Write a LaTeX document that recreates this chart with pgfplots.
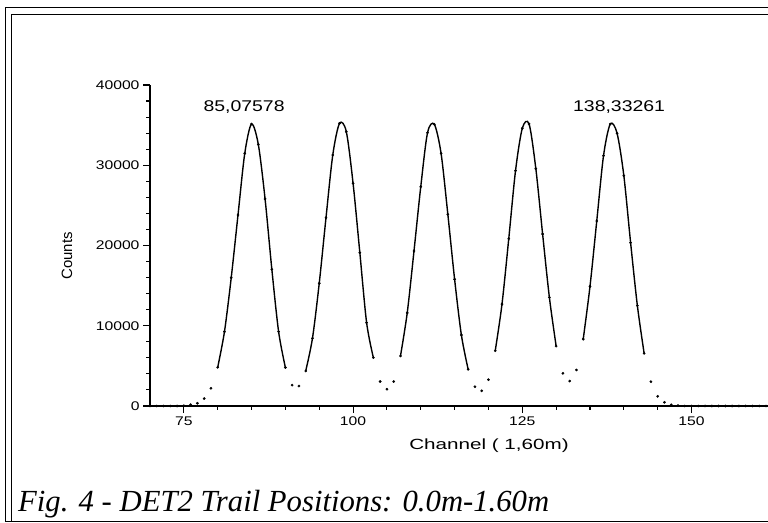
\documentclass[border=0pt]{standalone}
\usepackage{fontspec}
\setmainfont{Liberation Serif}
\newfontfamily\chartfont[FakeStretch=1.25]{Liberation Sans}
\newfontfamily\widefont[FakeStretch=1.4]{Liberation Sans}
\newfontfamily\plainsans{Liberation Sans}
\usepackage{pgfplots}
\usepackage{pgfplotstable}
\pgfplotsset{compat=1.18}

% counts per channel
\pgfplotstableread{
ch  counts
70  0
71  0
72  0
73  0
74  0
75  30
76  170
77  340
78  930
79  2210
80  4820
81  9260
82  15990
83  23800
84  31480
85  35140
86  32600
87  25800
88  17030
89  9260
90  4800
91  2600
92  2490
93  4360
94  8430
95  15280
96  23460
97  31270
98  35220
99  34180
100 27750
101 19100
102 10380
103 6020
104 3050
105 2090
106 3050
107 6230
108 11600
109 19310
110 27330
111 34050
112 35100
113 31480
114 23890
115 15790
116 8850
117 4570
118 2400
119 1890
120 3280
121 6880
122 12690
123 20850
124 29320
125 34600
126 35140
127 29570
128 21430
129 13540
130 7460
131 4070
132 3110
133 4490
134 8330
135 14900
136 23050
137 31190
138 35140
139 33980
140 28700
141 20350
142 12500
143 6560
144 3030
145 1200
146 460
147 150
148 50
149 0
150 0
151 0
152 0
153 0
154 0
155 0
156 0
157 0
158 0
159 0
160 0
161 0
}\spectrum

\begin{document}
\begin{tikzpicture}[x=1bp,y=1bp]
\path[use as bounding box] (0,0) rectangle (768,523);

% page frame
\draw[line width=0.9bp] (768,515.7) -- (5.7,515.7) -- (5.7,2) -- (768,2);
\draw[line width=0.9bp] (768,508.7) -- (11.7,508.7) -- (11.7,2);

\begin{axis}[
    at={(150bp,117bp)}, anchor=south west,
    scale only axis, width=618bp, height=321bp,
    xmin=70, xmax=161.3, ymin=0, ymax=40000,
    axis x line*=bottom, axis y line*=left,
    axis line style={-, line width=1.2bp},
    xtick={75,100,125,150}, minor x tick num=4,
    ytick={0,10000,20000,30000,40000}, minor y tick num=4,
    tick align=outside,
    major tick length=7bp, minor tick length=4bp,
    tick style={line width=1.1bp, black},
    scaled y ticks=false,
    /pgf/number format/.cd, 1000 sep={}, assume math mode=true,
    /pgfplots/.cd,
    tick label style={font=\chartfont\fontsize{12.6}{14}\selectfont},
    clip=false,
]
\addplot[only marks, mark=*, mark size=1.15bp, black] table[x=ch, y=counts] {\spectrum};
\addplot[smooth, line width=1.4bp, black, restrict x to domain=80:90] table[x=ch, y=counts] {\spectrum};
\addplot[smooth, line width=1.4bp, black, restrict x to domain=93:103] table[x=ch, y=counts] {\spectrum};
\addplot[smooth, line width=1.4bp, black, restrict x to domain=107:117] table[x=ch, y=counts] {\spectrum};
\addplot[smooth, line width=1.4bp, black, restrict x to domain=121:130] table[x=ch, y=counts] {\spectrum};
\addplot[smooth, line width=1.4bp, black, restrict x to domain=134:143] table[x=ch, y=counts] {\spectrum};

\node[font=\chartfont\fontsize{15.6}{17}\selectfont] at (axis cs:83.9,37260) {85,07578};
\node[font=\chartfont\fontsize{15.6}{17}\selectfont] at (axis cs:139.3,37260) {138,33261};
\end{axis}

\node[rotate=90, font=\plainsans\fontsize{15}{17}\selectfont] at (67,267) {Counts};
\node[font=\widefont\fontsize{14.8}{17}\selectfont] at (489,77) {Channel ( 1,60m)};

\node[anchor=base west, inner sep=0pt, font=\itshape\fontsize{30.8}{34}\selectfont] at (18,11) {Fig. 4 - DET2 Trail Positions: 0.0m-1.60m};
\end{tikzpicture}
\end{document}
